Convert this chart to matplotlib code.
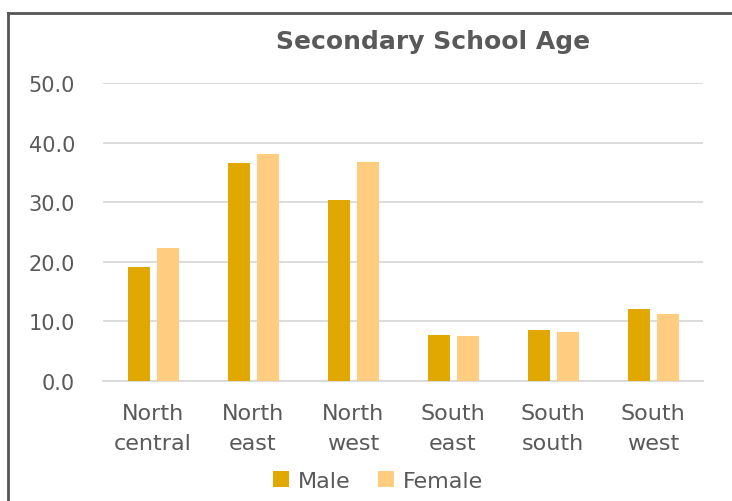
import matplotlib
matplotlib.use("Agg")
import matplotlib.pyplot as plt
import numpy as np
from matplotlib.lines import Line2D

W, H = 732, 502

categories = ["North\ncentral", "North\neast", "North\nwest",
              "South\neast", "South\nsouth", "South\nwest"]
male = [19.2, 36.5, 30.3, 7.7, 8.6, 12.1]
female = [22.3, 38.1, 36.7, 7.6, 8.3, 11.2]
yticks = [0, 10, 20, 30, 40, 50]

MALE_C = "#E0A800"
FEMALE_C = "#FFCC80"
TEXT_C = "#595959"
GRID_C = "#D9D9D9"

plt.rcParams["font.family"] = ["DejaVu Sans"]

fig = plt.figure(figsize=(W / 100, H / 100), dpi=100)
fig.patch.set_facecolor("white")

# axes placed in pixel terms: x 103..703, y(0)=382, y(50)=84
ax = fig.add_axes([103 / W, (H - 382) / H, 600 / W, 298 / H])

x = np.arange(len(categories))
bw = 0.22
ax.bar(x - 0.145, male, bw, color=MALE_C, label="Male", zorder=3)
ax.bar(x + 0.145, female, bw, color=FEMALE_C, label="Female", zorder=3)

ax.set_xlim(-0.5, len(categories) - 0.5)
ax.set_ylim(0, 50)
ax.set_yticks(yticks)
ax.set_yticklabels([f"{v:.1f}" for v in yticks])
ax.set_xticks(x)
ax.set_xticklabels(categories, linespacing=1.6)
ax.grid(axis="y", color=GRID_C, lw=1.3, zorder=0)
ax.set_axisbelow(True)
for s in ["top", "right", "left"]:
    ax.spines[s].set_visible(False)
ax.spines["bottom"].set_color(GRID_C)
ax.spines["bottom"].set_linewidth(1.3)
ax.tick_params(axis="both", length=0, colors=TEXT_C, labelsize=15)
ax.tick_params(axis="x", pad=16, labelsize=16)
ax.tick_params(axis="y", pad=20)

fig.text(433 / W, 1 - 42 / H, "Secondary School Age", ha="center", va="center",
         fontsize=18, fontweight="bold", color=TEXT_C)

fig.legend(loc="center", bbox_to_anchor=(378 / W, 1 - 482 / H), ncol=2,
           frameon=False, handlelength=0.72, handleheight=0.72,
           handletextpad=0.4, columnspacing=1.2, fontsize=16, labelcolor=TEXT_C)

# outer frame (left and top edges visible)
fig.add_artist(Line2D([8 / W, 8 / W], [0, 1 - 14 / H], color="#555555", lw=2,
                      transform=fig.transFigure))
fig.add_artist(Line2D([8 / W, 1], [1 - 14 / H, 1 - 14 / H], color="#555555", lw=2,
                      transform=fig.transFigure))

fig.savefig("out.png", dpi=100, facecolor="white")
